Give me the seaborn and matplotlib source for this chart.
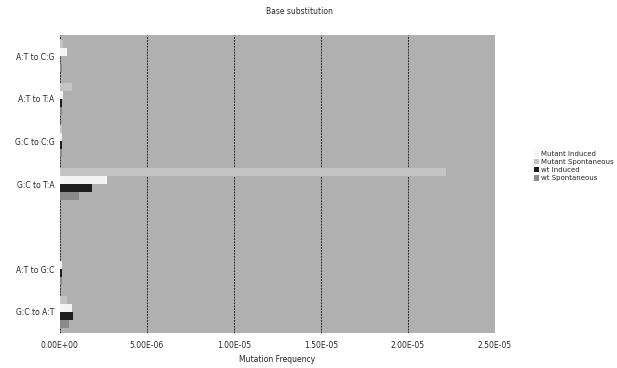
import numpy as np
import pandas as pd
import matplotlib
matplotlib.use("Agg")
import matplotlib.pyplot as plt
import seaborn as sns

# categorias (de cima para baixo); a quinta vem sem rótulo no original
categorias = ["A:T to C:G", "A:T to T:A", "G:C to C:G", "G:C to T:A", " ", "A:T to G:C", "G:C to A:T"]

mutant_induced = [4.0e-7, 2.0e-7, 1.0e-7, 2.7e-6, 0.0, 1.0e-7, 7.0e-7]
mutant_spont = [2.0e-7, 7.0e-7, 1.0e-7, 2.22e-5, 0.0, 0.0, 4.0e-7]
wt_induced = [0.0, 1.5e-7, 1.0e-7, 1.85e-6, 0.0, 1.0e-7, 7.5e-7]
wt_spont = [1.0e-7, 1.0e-7, 1.0e-7, 1.1e-6, 0.0, 1.0e-7, 5.0e-7]

series = ["Mutant Induced", "Mutant Spontaneous", "wt Induced", "wt Spontaneous"]
cores = {"Mutant Induced": "#f4f4f4", "Mutant Spontaneous": "#c4c4c4",
         "wt Induced": "#1e1e1e", "wt Spontaneous": "#8a8a8a"}
ordem_barras = ["Mutant Spontaneous", "Mutant Induced", "wt Induced", "wt Spontaneous"]

df = pd.DataFrame({
    "categoria": categorias * 4,
    "serie": [s for s in series for _ in categorias],
    "freq": mutant_induced + mutant_spont + wt_induced + wt_spont,
})

sns.set_style("white")
plt.rcParams["font.family"] = ["DejaVu Sans"]

fig = plt.figure(figsize=(6.17, 3.68), dpi=100)
ax = fig.add_axes([0.097, 0.095, 0.705, 0.81])
ax.set_facecolor("#b0b0b0")

sns.barplot(data=df, y="categoria", x="freq", hue="serie", order=categorias,
            hue_order=ordem_barras, palette=cores, orient="h", width=0.75,
            ax=ax, edgecolor="none", saturation=1)

ax.set_xlim(0, 2.5e-5)
ticks = [0, 5e-6, 1e-5, 1.5e-5, 2e-5, 2.5e-5]
ax.set_xticks(ticks)
ax.set_xticklabels(["0.00E+00", "5.00E-06", "1.00E-05", "1.50E-05", "2.00E-05", "2.50E-05"],
                   fontsize=5.5)
ax.tick_params(axis="y", labelsize=5.5, length=0, pad=4)
ax.tick_params(axis="x", length=0, pad=6)
ax.grid(axis="x", color="#2a2a2a", linestyle=(0, (2, 1)), linewidth=0.7)
ax.set_axisbelow(True)
for lado in ax.spines.values():
    lado.set_visible(False)
ax.set_ylabel("")
ax.set_xlabel("Mutation Frequency", fontsize=5.5, labelpad=3)

fig.text(0.486, 0.97, "Base substitution", fontsize=5.5, ha="center", va="center")

handles, labels = ax.get_legend_handles_labels()
mapa = dict(zip(labels, handles))
ax.legend([mapa[s] for s in series], series, loc="center left",
          bbox_to_anchor=(1.075, 0.56), frameon=False, fontsize=5.0,
          handlelength=0.8, handleheight=0.8, handletextpad=0.3, labelspacing=0.3)

fig.savefig("out.png", dpi=100, facecolor="white")
